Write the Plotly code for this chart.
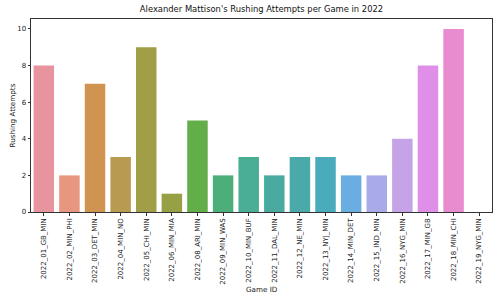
import plotly.graph_objects as go

# ---- data ----
game_ids = [
    "2022_01_GB_MIN", "2022_02_MIN_PHI", "2022_03_DET_MIN", "2022_04_MIN_NO",
    "2022_05_CHI_MIN", "2022_06_MIN_MIA", "2022_08_ARI_MIN", "2022_09_MIN_WAS",
    "2022_10_MIN_BUF", "2022_11_DAL_MIN", "2022_12_NE_MIN", "2022_13_NYJ_MIN",
    "2022_14_MIN_DET", "2022_15_IND_MIN", "2022_16_NYG_MIN", "2022_17_MIN_GB",
    "2022_18_MIN_CHI", "2022_19_NYG_MIN",
]
rush_attempts = [8, 2, 7, 3, 9, 1, 5, 2, 3, 2, 3, 3, 2, 2, 4, 8, 10, 0]
y_ticks = [0, 2, 4, 6, 8, 10]

bar_colors = [
    "#e8949f", "#e8967f", "#d09450", "#b89b50", "#a09e46", "#97a045",
    "#62ae48", "#4caf79", "#4aae94", "#4aaa9f", "#4aaaaa", "#4aabbb",
    "#6aade0", "#a9abe8", "#c6a3e6", "#df8fe8", "#e98ccf", "#e890b0",
]

fig = go.Figure(
    go.Bar(x=game_ids, y=rush_attempts,
           marker=dict(color=bar_colors, line=dict(width=0)), width=0.8)
)

font = "DejaVu Sans"
axis_common = dict(
    showline=True, linecolor="#333", linewidth=1, mirror=True,
    ticks="outside", ticklen=2.5, tickwidth=0.8, tickcolor="#333",
    showgrid=False, zeroline=False, automargin=False,
    tickfont=dict(family=font, size=7, color="#222"),
)

W, H = 500, 300
ml, mr, mt, mb = 31, 8, 18.5, 88.3
pw, ph = W - ml - mr, H - mt - mb

fig.update_layout(
    width=W, height=H,
    margin=dict(l=ml, r=mr, t=mt, b=mb),
    paper_bgcolor="white", plot_bgcolor="white",
    showlegend=False,
    title=dict(text="Alexander Mattison's Rushing Attempts per Game in 2022",
               x=0.5, xref="paper", y=1 - 9 / 300, yref="container",
               yanchor="middle", xanchor="center",
               font=dict(family=font, size=8.4, color="#111")),
    xaxis=dict(**axis_common, type="category", range=[-0.5, len(game_ids) - 0.5],
               tickangle=-90),
    yaxis=dict(**axis_common, range=[0, 10.54], tickvals=y_ticks),
    annotations=[
        dict(text="Game ID", xref="paper", yref="paper",
             x=0.5, y=(H - mb - 289) / ph, xanchor="center", yanchor="middle",
             showarrow=False, font=dict(family=font, size=7.2, color="#222")),
        dict(text="Rushing Attempts", xref="paper", yref="paper",
             x=(12 - ml) / pw, y=0.5, xanchor="center", yanchor="middle",
             textangle=-90, showarrow=False,
             font=dict(family=font, size=7.2, color="#222")),
    ],
)

fig.write_html("out.html")
